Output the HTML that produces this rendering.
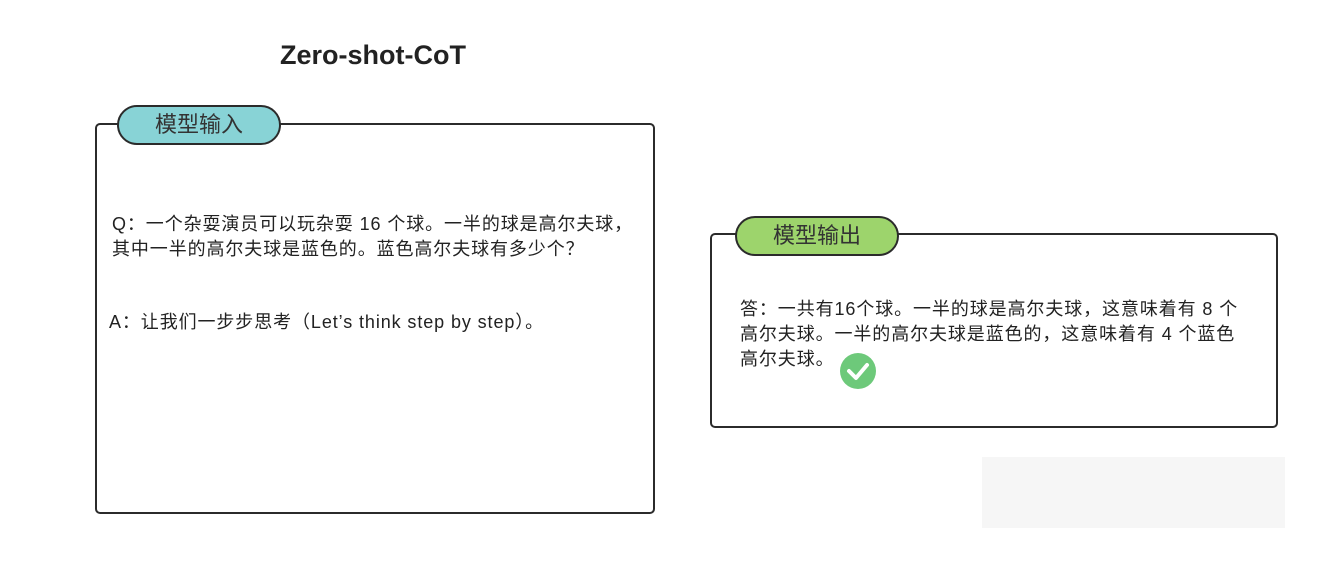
<!DOCTYPE html>
<html><head><meta charset="utf-8"><style>
body{margin:0;width:1322px;height:562px;background:#fff;position:relative;overflow:hidden;font-family:"Liberation Sans","Noto Sans CJK SC",sans-serif;color:#222}
.a{position:absolute}
.box{position:absolute;border:2.5px solid #2b2b2b;border-radius:5px;box-sizing:border-box}
.pill{position:absolute;border:2.5px solid #2b2b2b;border-radius:20px;box-sizing:border-box;text-align:center;font-size:22px;color:#333}
.t{position:absolute;font-size:18px;line-height:25px;white-space:nowrap;letter-spacing:0.9px}
</style></head><body>
<div class="a" style="left:280px;top:40px;font-size:27px;font-weight:bold;color:#222">Zero-shot-CoT</div>
<div class="box" style="left:95px;top:123px;width:560px;height:391px"></div>
<div class="pill" style="left:117px;top:105px;width:164px;height:40px;background:#88d3d6;line-height:35px">模型输入</div>
<div class="t" style="left:112px;top:212px">Q：一个杂耍演员可以玩杂耍 16 个球。一半的球是高尔夫球，<br>其中一半的高尔夫球是蓝色的。蓝色高尔夫球有多少个？</div>
<div class="t" style="left:109px;top:310px">A：让我们一步步思考（Let’s think step by step）。</div>
<div class="box" style="left:710px;top:233px;width:568px;height:195px"></div>
<div class="pill" style="left:735px;top:216px;width:164px;height:40px;background:#9dd46c;line-height:35px">模型输出</div>
<div class="t" style="left:740px;top:297px">答：一共有16个球。一半的球是高尔夫球，这意味着有 8 个<br>高尔夫球。一半的高尔夫球是蓝色的，这意味着有 4 个蓝色<br>高尔夫球。</div>
<svg class="a" style="left:839px;top:351px" width="40" height="40"><circle cx="19" cy="20" r="18" fill="#6dc97a"/><path d="M10 20 L17 27 L28 14" stroke="#fff" stroke-width="4" fill="none" stroke-linecap="round" stroke-linejoin="round"/></svg>
<div class="a" style="left:982px;top:457px;width:303px;height:71px;background:#f6f6f6"></div>
</body></html>
